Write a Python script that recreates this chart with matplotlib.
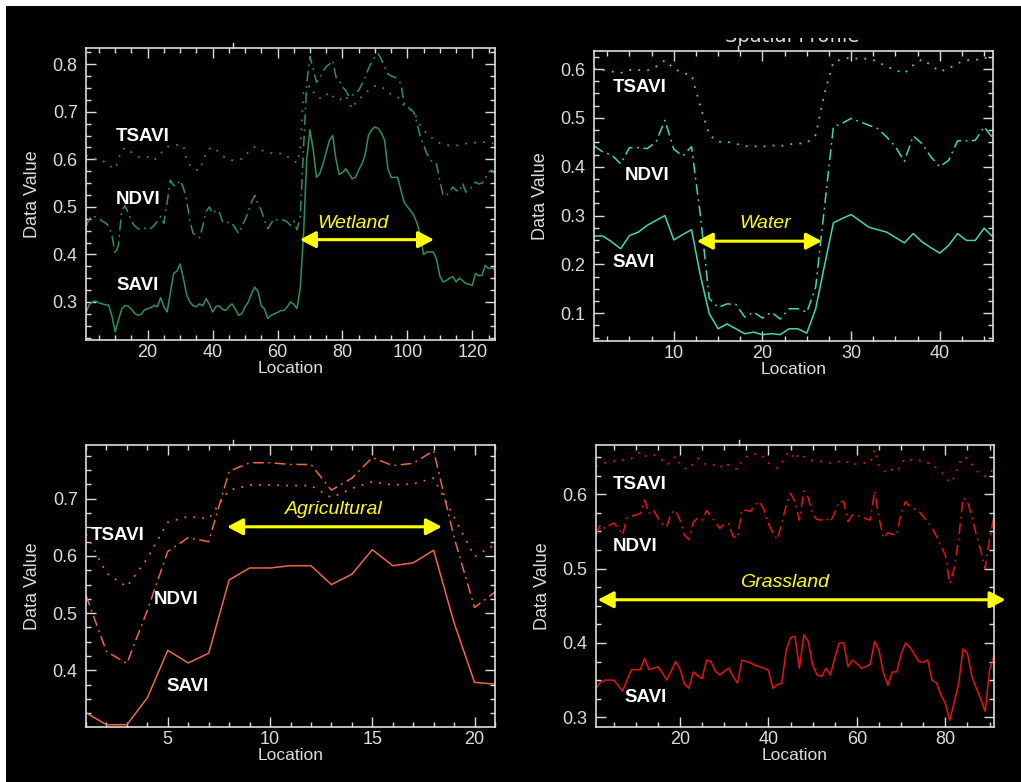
import numpy as np
import matplotlib
matplotlib.use("Agg")
import matplotlib.pyplot as plt
from matplotlib.ticker import MultipleLocator
from matplotlib.patches import Rectangle

# ---------------------------------------------------------------------------
# Data
# ---------------------------------------------------------------------------

# Wetland profile (127 locations)
wet_savi = [0.277, 0.295, 0.300, 0.302, 0.298, 0.296, 0.294, 0.293, 0.270, 0.237,
            0.262, 0.285, 0.293, 0.291, 0.285, 0.276, 0.272, 0.274, 0.283, 0.286,
            0.288, 0.293, 0.290, 0.309, 0.290, 0.279, 0.320, 0.360, 0.365, 0.380,
            0.350, 0.315, 0.300, 0.292, 0.290, 0.296, 0.292, 0.307, 0.295, 0.279,
            0.290, 0.292, 0.285, 0.282, 0.290, 0.296, 0.285, 0.272, 0.275, 0.290,
            0.300, 0.318, 0.331, 0.322, 0.292, 0.285, 0.265, 0.272, 0.275, 0.278,
            0.282, 0.282, 0.290, 0.300, 0.295, 0.286, 0.330, 0.440, 0.600, 0.662,
            0.620, 0.562, 0.570, 0.590, 0.615, 0.640, 0.650, 0.600, 0.568, 0.572,
            0.580, 0.570, 0.559, 0.562, 0.577, 0.590, 0.610, 0.650, 0.662, 0.668,
            0.665, 0.655, 0.640, 0.580, 0.562, 0.562, 0.562, 0.535, 0.510, 0.500,
            0.492, 0.482, 0.465, 0.440, 0.400, 0.405, 0.405, 0.405, 0.390, 0.355,
            0.342, 0.345, 0.350, 0.353, 0.342, 0.350, 0.345, 0.339, 0.337, 0.335,
            0.360, 0.355, 0.356, 0.377, 0.370, 0.372, 0.368]
wet_ndvi = [0.458, 0.475, 0.482, 0.478, 0.475, 0.470, 0.466, 0.460, 0.440, 0.400,
            0.420, 0.493, 0.502, 0.488, 0.470, 0.460, 0.454, 0.452, 0.455, 0.452,
            0.455, 0.461, 0.470, 0.480, 0.465, 0.510, 0.556, 0.545, 0.545, 0.556,
            0.540, 0.514, 0.470, 0.444, 0.440, 0.435, 0.460, 0.490, 0.500, 0.486,
            0.493, 0.490, 0.470, 0.465, 0.468, 0.465, 0.455, 0.444, 0.460, 0.472,
            0.490, 0.510, 0.524, 0.505, 0.493, 0.472, 0.454, 0.465, 0.475, 0.472,
            0.472, 0.472, 0.468, 0.461, 0.470, 0.452, 0.480, 0.620, 0.760, 0.816,
            0.790, 0.762, 0.770, 0.785, 0.795, 0.800, 0.808, 0.773, 0.765, 0.752,
            0.745, 0.731, 0.735, 0.738, 0.745, 0.758, 0.773, 0.790, 0.805, 0.815,
            0.822, 0.810, 0.795, 0.780, 0.775, 0.773, 0.768, 0.759, 0.717, 0.710,
            0.705, 0.699, 0.675, 0.647, 0.630, 0.612, 0.600, 0.591, 0.590, 0.555,
            0.524, 0.524, 0.530, 0.542, 0.535, 0.532, 0.550, 0.531, 0.535, 0.543,
            0.552, 0.548, 0.550, 0.560, 0.573, 0.577, 0.570]
wet_tsavi = [0.608, 0.606, 0.603, 0.601, 0.600, 0.598, 0.592, 0.586, 0.584, 0.580,
             0.600, 0.619, 0.624, 0.620, 0.615, 0.610, 0.605, 0.605, 0.604, 0.605,
             0.600, 0.598, 0.605, 0.612, 0.620, 0.626, 0.628, 0.629, 0.630, 0.629,
             0.629, 0.598, 0.588, 0.580, 0.578, 0.577, 0.595, 0.612, 0.622, 0.626,
             0.620, 0.615, 0.608, 0.603, 0.601, 0.598, 0.598, 0.600, 0.601, 0.608,
             0.615, 0.620, 0.626, 0.622, 0.619, 0.617, 0.615, 0.613, 0.612, 0.612,
             0.612, 0.612, 0.606, 0.601, 0.598, 0.592, 0.620, 0.740, 0.748, 0.755,
             0.742, 0.731, 0.729, 0.727, 0.735, 0.741, 0.733, 0.726, 0.724, 0.730,
             0.734, 0.720, 0.706, 0.718, 0.728, 0.731, 0.738, 0.745, 0.750, 0.754,
             0.755, 0.752, 0.748, 0.742, 0.736, 0.733, 0.731, 0.725, 0.712, 0.706,
             0.704, 0.700, 0.685, 0.672, 0.662, 0.654, 0.648, 0.643, 0.638, 0.634,
             0.632, 0.630, 0.629, 0.629, 0.629, 0.630, 0.632, 0.633, 0.633, 0.633,
             0.635, 0.636, 0.636, 0.636, 0.636, 0.634, 0.632]

# Water profile (46 locations)
wat_savi = [0.258, 0.258, 0.246, 0.232, 0.259, 0.266, 0.280, 0.290, 0.300, 0.250,
            0.261, 0.271, 0.177, 0.099, 0.068, 0.078, 0.068, 0.058, 0.061, 0.056,
            0.058, 0.056, 0.068, 0.068, 0.059, 0.109, 0.198, 0.285, 0.294, 0.302,
            0.289, 0.276, 0.271, 0.266, 0.255, 0.244, 0.263, 0.246, 0.234, 0.223,
            0.239, 0.263, 0.249, 0.249, 0.274, 0.256]
wat_ndvi = [0.443, 0.430, 0.424, 0.406, 0.439, 0.439, 0.437, 0.451, 0.495, 0.436,
            0.422, 0.441, 0.300, 0.130, 0.112, 0.119, 0.118, 0.092, 0.102, 0.090,
            0.102, 0.088, 0.109, 0.109, 0.102, 0.153, 0.318, 0.482, 0.489, 0.499,
            0.492, 0.485, 0.478, 0.461, 0.441, 0.411, 0.463, 0.447, 0.420, 0.400,
            0.413, 0.453, 0.453, 0.454, 0.482, 0.458]
wat_tsavi = [0.601, 0.598, 0.595, 0.592, 0.598, 0.598, 0.597, 0.605, 0.618, 0.601,
             0.592, 0.588, 0.523, 0.465, 0.451, 0.451, 0.447, 0.442, 0.442, 0.441,
             0.444, 0.442, 0.446, 0.447, 0.449, 0.465, 0.550, 0.615, 0.620, 0.624,
             0.620, 0.622, 0.615, 0.605, 0.598, 0.591, 0.608, 0.620, 0.608, 0.595,
             0.601, 0.612, 0.618, 0.618, 0.624, 0.615]

# Agricultural profile (21 locations)
agr_savi = [0.326, 0.305, 0.305, 0.352, 0.435, 0.413, 0.430, 0.558, 0.579, 0.579,
            0.583, 0.583, 0.550, 0.568, 0.611, 0.583, 0.588, 0.610, 0.483, 0.379,
            0.376]
agr_ndvi = [0.531, 0.433, 0.412, 0.505, 0.608, 0.632, 0.625, 0.748, 0.763, 0.763,
            0.760, 0.760, 0.715, 0.736, 0.772, 0.758, 0.762, 0.784, 0.632, 0.510,
            0.537]
agr_tsavi = [0.638, 0.570, 0.546, 0.596, 0.659, 0.669, 0.665, 0.715, 0.724, 0.724,
             0.723, 0.723, 0.702, 0.718, 0.730, 0.724, 0.726, 0.736, 0.668, 0.599,
             0.620]

# Grassland profile (91 locations)
gra_savi = [0.339, 0.347, 0.350, 0.350, 0.350, 0.343, 0.335, 0.350, 0.364, 0.364,
            0.364, 0.379, 0.364, 0.366, 0.368, 0.360, 0.350, 0.362, 0.375, 0.365,
            0.345, 0.339, 0.361, 0.356, 0.352, 0.377, 0.375, 0.362, 0.357, 0.362,
            0.366, 0.355, 0.346, 0.377, 0.375, 0.373, 0.370, 0.368, 0.366, 0.363,
            0.339, 0.344, 0.346, 0.390, 0.407, 0.409, 0.366, 0.411, 0.402, 0.370,
            0.357, 0.355, 0.366, 0.357, 0.380, 0.400, 0.400, 0.368, 0.377, 0.372,
            0.366, 0.368, 0.371, 0.402, 0.390, 0.360, 0.343, 0.361, 0.361, 0.385,
            0.400, 0.394, 0.385, 0.375, 0.374, 0.377, 0.350, 0.346, 0.330, 0.319,
            0.296, 0.320, 0.345, 0.392, 0.386, 0.355, 0.339, 0.325, 0.308, 0.364,
            0.382]
gra_ndvi = [0.545, 0.559, 0.554, 0.558, 0.561, 0.555, 0.545, 0.568, 0.570, 0.572,
            0.574, 0.592, 0.574, 0.579, 0.568, 0.560, 0.556, 0.575, 0.578, 0.565,
            0.545, 0.539, 0.562, 0.568, 0.565, 0.578, 0.570, 0.562, 0.554, 0.560,
            0.560, 0.543, 0.541, 0.579, 0.578, 0.577, 0.586, 0.590, 0.579, 0.560,
            0.548, 0.539, 0.560, 0.585, 0.601, 0.590, 0.565, 0.604, 0.595, 0.572,
            0.566, 0.565, 0.568, 0.563, 0.575, 0.590, 0.590, 0.563, 0.572, 0.571,
            0.570, 0.567, 0.565, 0.604, 0.568, 0.541, 0.548, 0.546, 0.545, 0.575,
            0.590, 0.583, 0.580, 0.577, 0.570, 0.563, 0.555, 0.543, 0.530, 0.518,
            0.480, 0.500, 0.540, 0.595, 0.590, 0.570, 0.545, 0.525, 0.500, 0.540,
            0.570]
gra_tsavi = [0.637, 0.640, 0.642, 0.643, 0.644, 0.645, 0.646, 0.647, 0.648, 0.651,
             0.657, 0.651, 0.652, 0.653, 0.650, 0.646, 0.639, 0.644, 0.651, 0.639,
             0.635, 0.633, 0.642, 0.648, 0.644, 0.639, 0.639, 0.639, 0.635, 0.642,
             0.639, 0.636, 0.633, 0.646, 0.650, 0.653, 0.654, 0.655, 0.648, 0.642,
             0.638, 0.635, 0.642, 0.653, 0.657, 0.646, 0.655, 0.650, 0.647, 0.645,
             0.644, 0.644, 0.643, 0.642, 0.643, 0.644, 0.642, 0.643, 0.639, 0.641,
             0.642, 0.642, 0.642, 0.660, 0.637, 0.632, 0.628, 0.633, 0.630, 0.640,
             0.648, 0.646, 0.646, 0.646, 0.642, 0.642, 0.641, 0.635, 0.630, 0.624,
             0.615, 0.622, 0.640, 0.650, 0.648, 0.640, 0.632, 0.626, 0.624, 0.626,
             0.637]

panels = [
    # name, savi, ndvi, tsavi, colour
    ("Wetland", wet_savi, wet_ndvi, wet_tsavi, "#2e9060"),
    ("Water", wat_savi, wat_ndvi, wat_tsavi, "#3fd8b6"),
    ("Agricultural", agr_savi, agr_ndvi, agr_tsavi, "#ef6843"),
    ("Grassland", gra_savi, gra_ndvi, gra_tsavi, "#e81212"),
]

# ---------------------------------------------------------------------------
# Layout (figure pixels 1021 x 782)
# ---------------------------------------------------------------------------
W, H = 1021, 782
fig = plt.figure(figsize=(W / 100, H / 100), dpi=100, facecolor="white")
fig.patches.append(Rectangle((6 / W, 0), 1 - 6 / W, 1 - 6 / H, transform=fig.transFigure,
                             facecolor="black", edgecolor="none", zorder=-10))

fg = "#dcdcdc"
plt.rcParams["font.family"] = ["Liberation Sans", "DejaVu Sans"]


def px_rect(l, r, t, b):
    return [l / W, 1 - b / H, (r - l) / W, (b - t) / H]


boxes = [px_rect(86, 495, 48, 340), px_rect(594, 993, 51, 341),
         px_rect(86, 495, 445, 727), px_rect(596, 994, 445, 727)]
xlims = [(1, 127), (1, 46), (1, 21), (1, 91)]
ylims = [(0.22, 0.834), (0.043, 0.637), (0.301, 0.794), (0.287, 0.666)]
xmaj = [20, 10, 5, 20]
xmin = [5, 2.5, 1, 5]

# label positions (data coords): TSAVI, NDVI, SAVI, arrow x0, x1, arrow y, text x, text y
ann = [
    ((10.3, 0.647), (10.3, 0.515), (10.3, 0.334), 66.9, 108.2, 0.431, 83.2, 0.466),
    ((3.1, 0.563), (4.5, 0.383), (3.1, 0.204), 12.6, 26.7, 0.2475, 20.3, 0.284),
    ((1.25, 0.635), (4.33, 0.524), (4.93, 0.371), 7.9, 18.4, 0.651, 13.1, 0.681),
    ((4.8, 0.6125), (4.8, 0.529), (7.5, 0.327), 1.4, 93.6, 0.458, 43.7, 0.481),
]

for i, (name, savi, ndvi, tsavi, col) in enumerate(panels):
    ax = fig.add_axes(boxes[i])
    ax.set_facecolor("black")
    loc = np.arange(1, len(savi) + 1)

    ax.plot(loc, savi, color=col, lw=1.1, ls="-")
    ax.plot(loc, ndvi, color=col, lw=1.1, ls=(0, (7, 3, 1.2, 3)))
    ax.plot(loc, tsavi, color=col, lw=1.3, ls=(0, (1, 4)))

    ax.set_xlim(*xlims[i])
    ax.set_ylim(*ylims[i])
    ax.xaxis.set_major_locator(MultipleLocator(xmaj[i]))
    ax.xaxis.set_minor_locator(MultipleLocator(xmin[i]))
    ax.yaxis.set_major_locator(MultipleLocator(0.1))
    ax.yaxis.set_minor_locator(MultipleLocator(0.025))
    ax.yaxis.set_major_formatter(lambda v, p: f"{v:.1f}")
    ax.tick_params(which="both", direction="in", top=True, right=True,
                   color=fg, labelcolor=fg, labelsize=13, width=1.0)
    ax.tick_params(which="major", length=7)
    ax.tick_params(axis="y", which="major", pad=6)
    ax.tick_params(axis="x", which="major", pad=3)
    ax.tick_params(which="minor", length=3.5)
    for s in ax.spines.values():
        s.set_color(fg)
        s.set_linewidth(1.2)
    ax.set_xlabel("Location", color=fg, fontsize=12.5, labelpad=0)
    ax.set_ylabel("Data Value", color=fg, fontsize=13, labelpad=8)

    # IDL title marker above the plot
    ax.plot([0.36, 0.36], [1.0, 1.018], transform=ax.transAxes, color=fg,
            lw=1.0, clip_on=False)

    t_pos, n_pos, s_pos, x0, x1, ya, tx, ty = ann[i]
    for lab, pos in (("TSAVI", t_pos), ("NDVI", n_pos), ("SAVI", s_pos)):
        ax.text(pos[0], pos[1], lab, color="white", fontsize=13.5, fontweight="bold",
                ha="left", va="center")

    ax.annotate("", xy=(x0, ya), xytext=(x1, ya), annotation_clip=False,
                arrowprops=dict(arrowstyle="<|-|>,head_length=0.95,head_width=0.5",
                                color="#ffff00", lw=2.2, shrinkA=0, shrinkB=0))
    ax.text(tx, ty, name, color="#ffff00", fontsize=14, fontstyle="italic",
            ha="center", va="center")

# cut-off window title above the water panel: only its lower edge shows
fig.text(792 / W, 1 - 42 / H, "Spatial Profile", color=fg, fontsize=14,
         family="DejaVu Sans", ha="center", va="baseline", zorder=3)
fig.patches.append(Rectangle((690 / W, 1 - 38 / H), 220 / W, 32 / H,
                             transform=fig.transFigure, facecolor="black",
                             edgecolor="none", zorder=10))

fig.savefig("out.png", dpi=100, facecolor=fig.get_facecolor())
